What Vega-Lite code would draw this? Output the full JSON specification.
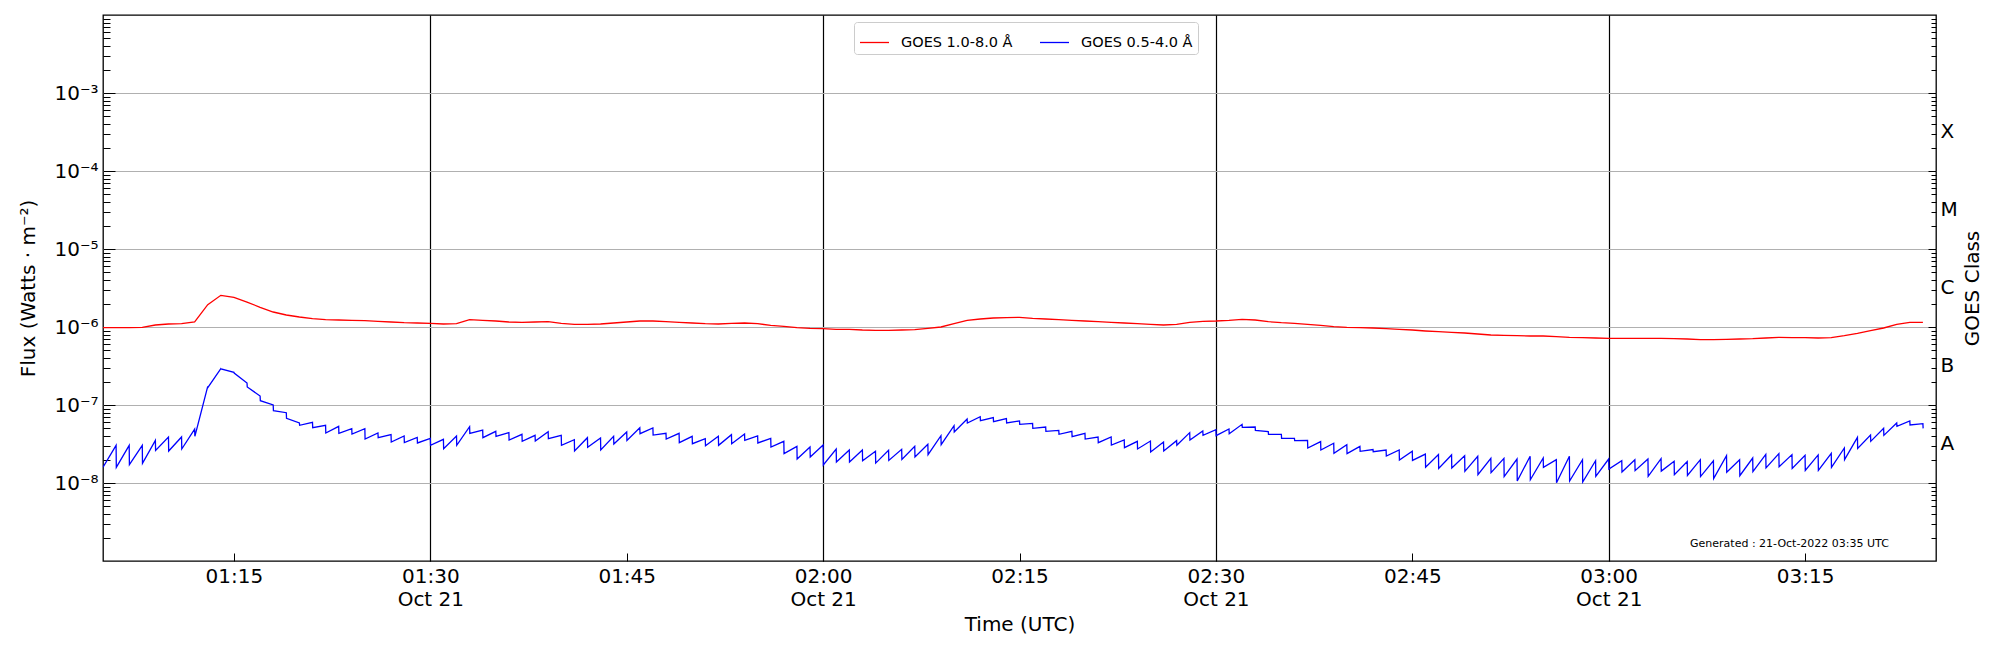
{
"$schema": "https://vega.github.io/schema/vega-lite/v6.json",
"width": 1833,
"height": 546,
"autosize": {"type": "none"},
"padding": {"left": 103, "top": 15, "right": 64, "bottom": 89},
"background": "white",
"config": {"view": {"stroke": "black", "strokeWidth": 1.3}, "font": "DejaVu Sans"},
"layer": [
{
"data": {"values": [
{"band":"1.0-8.0","time":"2022-10-21T01:05:00Z","flux":9.81e-7},
{"band":"1.0-8.0","time":"2022-10-21T01:06:00Z","flux":9.81e-7},
{"band":"1.0-8.0","time":"2022-10-21T01:07:00Z","flux":9.81e-7},
{"band":"1.0-8.0","time":"2022-10-21T01:08:00Z","flux":9.90e-7},
{"band":"1.0-8.0","time":"2022-10-21T01:09:00Z","flux":1.061e-6},
{"band":"1.0-8.0","time":"2022-10-21T01:10:00Z","flux":1.093e-6},
{"band":"1.0-8.0","time":"2022-10-21T01:11:00Z","flux":1.103e-6},
{"band":"1.0-8.0","time":"2022-10-21T01:12:00Z","flux":1.159e-6},
{"band":"1.0-8.0","time":"2022-10-21T01:13:00Z","flux":1.933e-6},
{"band":"1.0-8.0","time":"2022-10-21T01:14:00Z","flux":2.547e-6},
{"band":"1.0-8.0","time":"2022-10-21T01:15:00Z","flux":2.40e-6},
{"band":"1.0-8.0","time":"2022-10-21T01:16:00Z","flux":2.09e-6},
{"band":"1.0-8.0","time":"2022-10-21T01:17:00Z","flux":1.787e-6},
{"band":"1.0-8.0","time":"2022-10-21T01:18:00Z","flux":1.557e-6},
{"band":"1.0-8.0","time":"2022-10-21T01:19:00Z","flux":1.425e-6},
{"band":"1.0-8.0","time":"2022-10-21T01:20:00Z","flux":1.344e-6},
{"band":"1.0-8.0","time":"2022-10-21T01:21:00Z","flux":1.279e-6},
{"band":"1.0-8.0","time":"2022-10-21T01:22:00Z","flux":1.242e-6},
{"band":"1.0-8.0","time":"2022-10-21T01:23:00Z","flux":1.229e-6},
{"band":"1.0-8.0","time":"2022-10-21T01:24:00Z","flux":1.217e-6},
{"band":"1.0-8.0","time":"2022-10-21T01:25:00Z","flux":1.206e-6},
{"band":"1.0-8.0","time":"2022-10-21T01:26:00Z","flux":1.182e-6},
{"band":"1.0-8.0","time":"2022-10-21T01:27:00Z","flux":1.159e-6},
{"band":"1.0-8.0","time":"2022-10-21T01:28:00Z","flux":1.137e-6},
{"band":"1.0-8.0","time":"2022-10-21T01:29:00Z","flux":1.125e-6},
{"band":"1.0-8.0","time":"2022-10-21T01:30:00Z","flux":1.114e-6},
{"band":"1.0-8.0","time":"2022-10-21T01:31:00Z","flux":1.093e-6},
{"band":"1.0-8.0","time":"2022-10-21T01:32:00Z","flux":1.103e-6},
{"band":"1.0-8.0","time":"2022-10-21T01:33:00Z","flux":1.242e-6},
{"band":"1.0-8.0","time":"2022-10-21T01:34:00Z","flux":1.217e-6},
{"band":"1.0-8.0","time":"2022-10-21T01:35:00Z","flux":1.194e-6},
{"band":"1.0-8.0","time":"2022-10-21T01:36:00Z","flux":1.159e-6},
{"band":"1.0-8.0","time":"2022-10-21T01:37:00Z","flux":1.148e-6},
{"band":"1.0-8.0","time":"2022-10-21T01:38:00Z","flux":1.159e-6},
{"band":"1.0-8.0","time":"2022-10-21T01:39:00Z","flux":1.171e-6},
{"band":"1.0-8.0","time":"2022-10-21T01:40:00Z","flux":1.114e-6},
{"band":"1.0-8.0","time":"2022-10-21T01:41:00Z","flux":1.082e-6},
{"band":"1.0-8.0","time":"2022-10-21T01:42:00Z","flux":1.082e-6},
{"band":"1.0-8.0","time":"2022-10-21T01:43:00Z","flux":1.093e-6},
{"band":"1.0-8.0","time":"2022-10-21T01:44:00Z","flux":1.125e-6},
{"band":"1.0-8.0","time":"2022-10-21T01:45:00Z","flux":1.159e-6},
{"band":"1.0-8.0","time":"2022-10-21T01:46:00Z","flux":1.194e-6},
{"band":"1.0-8.0","time":"2022-10-21T01:47:00Z","flux":1.194e-6},
{"band":"1.0-8.0","time":"2022-10-21T01:48:00Z","flux":1.171e-6},
{"band":"1.0-8.0","time":"2022-10-21T01:49:00Z","flux":1.148e-6},
{"band":"1.0-8.0","time":"2022-10-21T01:50:00Z","flux":1.125e-6},
{"band":"1.0-8.0","time":"2022-10-21T01:51:00Z","flux":1.103e-6},
{"band":"1.0-8.0","time":"2022-10-21T01:52:00Z","flux":1.093e-6},
{"band":"1.0-8.0","time":"2022-10-21T01:53:00Z","flux":1.114e-6},
{"band":"1.0-8.0","time":"2022-10-21T01:54:00Z","flux":1.125e-6},
{"band":"1.0-8.0","time":"2022-10-21T01:55:00Z","flux":1.103e-6},
{"band":"1.0-8.0","time":"2022-10-21T01:56:00Z","flux":1.051e-6},
{"band":"1.0-8.0","time":"2022-10-21T01:57:00Z","flux":1.020e-6},
{"band":"1.0-8.0","time":"2022-10-21T01:58:00Z","flux":9.81e-7},
{"band":"1.0-8.0","time":"2022-10-21T01:59:00Z","flux":9.61e-7},
{"band":"1.0-8.0","time":"2022-10-21T02:00:00Z","flux":9.52e-7},
{"band":"1.0-8.0","time":"2022-10-21T02:01:00Z","flux":9.34e-7},
{"band":"1.0-8.0","time":"2022-10-21T02:02:00Z","flux":9.34e-7},
{"band":"1.0-8.0","time":"2022-10-21T02:03:00Z","flux":9.15e-7},
{"band":"1.0-8.0","time":"2022-10-21T02:04:00Z","flux":9.06e-7},
{"band":"1.0-8.0","time":"2022-10-21T02:05:00Z","flux":9.06e-7},
{"band":"1.0-8.0","time":"2022-10-21T02:06:00Z","flux":9.15e-7},
{"band":"1.0-8.0","time":"2022-10-21T02:07:00Z","flux":9.24e-7},
{"band":"1.0-8.0","time":"2022-10-21T02:08:00Z","flux":9.61e-7},
{"band":"1.0-8.0","time":"2022-10-21T02:09:00Z","flux":1.000e-6},
{"band":"1.0-8.0","time":"2022-10-21T02:10:00Z","flux":1.103e-6},
{"band":"1.0-8.0","time":"2022-10-21T02:11:00Z","flux":1.217e-6},
{"band":"1.0-8.0","time":"2022-10-21T02:12:00Z","flux":1.266e-6},
{"band":"1.0-8.0","time":"2022-10-21T02:13:00Z","flux":1.304e-6},
{"band":"1.0-8.0","time":"2022-10-21T02:14:00Z","flux":1.317e-6},
{"band":"1.0-8.0","time":"2022-10-21T02:15:00Z","flux":1.330e-6},
{"band":"1.0-8.0","time":"2022-10-21T02:16:00Z","flux":1.291e-6},
{"band":"1.0-8.0","time":"2022-10-21T02:17:00Z","flux":1.266e-6},
{"band":"1.0-8.0","time":"2022-10-21T02:18:00Z","flux":1.242e-6},
{"band":"1.0-8.0","time":"2022-10-21T02:19:00Z","flux":1.217e-6},
{"band":"1.0-8.0","time":"2022-10-21T02:20:00Z","flux":1.194e-6},
{"band":"1.0-8.0","time":"2022-10-21T02:21:00Z","flux":1.171e-6},
{"band":"1.0-8.0","time":"2022-10-21T02:22:00Z","flux":1.148e-6},
{"band":"1.0-8.0","time":"2022-10-21T02:23:00Z","flux":1.125e-6},
{"band":"1.0-8.0","time":"2022-10-21T02:24:00Z","flux":1.103e-6},
{"band":"1.0-8.0","time":"2022-10-21T02:25:00Z","flux":1.082e-6},
{"band":"1.0-8.0","time":"2022-10-21T02:26:00Z","flux":1.061e-6},
{"band":"1.0-8.0","time":"2022-10-21T02:27:00Z","flux":1.082e-6},
{"band":"1.0-8.0","time":"2022-10-21T02:28:00Z","flux":1.148e-6},
{"band":"1.0-8.0","time":"2022-10-21T02:29:00Z","flux":1.182e-6},
{"band":"1.0-8.0","time":"2022-10-21T02:30:00Z","flux":1.194e-6},
{"band":"1.0-8.0","time":"2022-10-21T02:31:00Z","flux":1.217e-6},
{"band":"1.0-8.0","time":"2022-10-21T02:32:00Z","flux":1.254e-6},
{"band":"1.0-8.0","time":"2022-10-21T02:33:00Z","flux":1.229e-6},
{"band":"1.0-8.0","time":"2022-10-21T02:34:00Z","flux":1.171e-6},
{"band":"1.0-8.0","time":"2022-10-21T02:35:00Z","flux":1.137e-6},
{"band":"1.0-8.0","time":"2022-10-21T02:36:00Z","flux":1.114e-6},
{"band":"1.0-8.0","time":"2022-10-21T02:37:00Z","flux":1.082e-6},
{"band":"1.0-8.0","time":"2022-10-21T02:38:00Z","flux":1.051e-6},
{"band":"1.0-8.0","time":"2022-10-21T02:39:00Z","flux":1.010e-6},
{"band":"1.0-8.0","time":"2022-10-21T02:40:00Z","flux":9.90e-7},
{"band":"1.0-8.0","time":"2022-10-21T02:41:00Z","flux":9.81e-7},
{"band":"1.0-8.0","time":"2022-10-21T02:42:00Z","flux":9.71e-7},
{"band":"1.0-8.0","time":"2022-10-21T02:43:00Z","flux":9.52e-7},
{"band":"1.0-8.0","time":"2022-10-21T02:44:00Z","flux":9.34e-7},
{"band":"1.0-8.0","time":"2022-10-21T02:45:00Z","flux":9.15e-7},
{"band":"1.0-8.0","time":"2022-10-21T02:46:00Z","flux":8.89e-7},
{"band":"1.0-8.0","time":"2022-10-21T02:47:00Z","flux":8.71e-7},
{"band":"1.0-8.0","time":"2022-10-21T02:48:00Z","flux":8.54e-7},
{"band":"1.0-8.0","time":"2022-10-21T02:49:00Z","flux":8.38e-7},
{"band":"1.0-8.0","time":"2022-10-21T02:50:00Z","flux":8.13e-7},
{"band":"1.0-8.0","time":"2022-10-21T02:51:00Z","flux":7.90e-7},
{"band":"1.0-8.0","time":"2022-10-21T02:52:00Z","flux":7.82e-7},
{"band":"1.0-8.0","time":"2022-10-21T02:53:00Z","flux":7.74e-7},
{"band":"1.0-8.0","time":"2022-10-21T02:54:00Z","flux":7.67e-7},
{"band":"1.0-8.0","time":"2022-10-21T02:55:00Z","flux":7.67e-7},
{"band":"1.0-8.0","time":"2022-10-21T02:56:00Z","flux":7.52e-7},
{"band":"1.0-8.0","time":"2022-10-21T02:57:00Z","flux":7.37e-7},
{"band":"1.0-8.0","time":"2022-10-21T02:58:00Z","flux":7.30e-7},
{"band":"1.0-8.0","time":"2022-10-21T02:59:00Z","flux":7.23e-7},
{"band":"1.0-8.0","time":"2022-10-21T03:00:00Z","flux":7.16e-7},
{"band":"1.0-8.0","time":"2022-10-21T03:01:00Z","flux":7.16e-7},
{"band":"1.0-8.0","time":"2022-10-21T03:02:00Z","flux":7.16e-7},
{"band":"1.0-8.0","time":"2022-10-21T03:03:00Z","flux":7.16e-7},
{"band":"1.0-8.0","time":"2022-10-21T03:04:00Z","flux":7.16e-7},
{"band":"1.0-8.0","time":"2022-10-21T03:05:00Z","flux":7.09e-7},
{"band":"1.0-8.0","time":"2022-10-21T03:06:00Z","flux":7.02e-7},
{"band":"1.0-8.0","time":"2022-10-21T03:07:00Z","flux":6.88e-7},
{"band":"1.0-8.0","time":"2022-10-21T03:08:00Z","flux":6.88e-7},
{"band":"1.0-8.0","time":"2022-10-21T03:09:00Z","flux":6.95e-7},
{"band":"1.0-8.0","time":"2022-10-21T03:10:00Z","flux":7.02e-7},
{"band":"1.0-8.0","time":"2022-10-21T03:11:00Z","flux":7.09e-7},
{"band":"1.0-8.0","time":"2022-10-21T03:12:00Z","flux":7.23e-7},
{"band":"1.0-8.0","time":"2022-10-21T03:13:00Z","flux":7.37e-7},
{"band":"1.0-8.0","time":"2022-10-21T03:14:00Z","flux":7.30e-7},
{"band":"1.0-8.0","time":"2022-10-21T03:15:00Z","flux":7.30e-7},
{"band":"1.0-8.0","time":"2022-10-21T03:16:00Z","flux":7.23e-7},
{"band":"1.0-8.0","time":"2022-10-21T03:17:00Z","flux":7.30e-7},
{"band":"1.0-8.0","time":"2022-10-21T03:18:00Z","flux":7.74e-7},
{"band":"1.0-8.0","time":"2022-10-21T03:19:00Z","flux":8.29e-7},
{"band":"1.0-8.0","time":"2022-10-21T03:20:00Z","flux":8.97e-7},
{"band":"1.0-8.0","time":"2022-10-21T03:21:00Z","flux":9.71e-7},
{"band":"1.0-8.0","time":"2022-10-21T03:22:00Z","flux":1.082e-6},
{"band":"1.0-8.0","time":"2022-10-21T03:23:00Z","flux":1.148e-6},
{"band":"1.0-8.0","time":"2022-10-21T03:24:00Z","flux":1.148e-6},
{"band":"0.5-4.0","time":"2022-10-21T01:05:00Z","flux":1.59e-8},
{"band":"0.5-4.0","time":"2022-10-21T01:06:00Z","flux":3.04e-8},{"band":"0.5-4.0","time":"2022-10-21T01:06:01Z","flux":1.59e-8},
{"band":"0.5-4.0","time":"2022-10-21T01:07:00Z","flux":3.04e-8},{"band":"0.5-4.0","time":"2022-10-21T01:07:01Z","flux":1.72e-8},
{"band":"0.5-4.0","time":"2022-10-21T01:08:00Z","flux":3.04e-8},{"band":"0.5-4.0","time":"2022-10-21T01:08:01Z","flux":1.79e-8},
{"band":"0.5-4.0","time":"2022-10-21T01:09:00Z","flux":3.52e-8},{"band":"0.5-4.0","time":"2022-10-21T01:09:01Z","flux":2.62e-8},
{"band":"0.5-4.0","time":"2022-10-21T01:10:00Z","flux":3.89e-8},{"band":"0.5-4.0","time":"2022-10-21T01:10:01Z","flux":2.57e-8},
{"band":"0.5-4.0","time":"2022-10-21T01:11:00Z","flux":3.89e-8},{"band":"0.5-4.0","time":"2022-10-21T01:11:01Z","flux":2.73e-8},
{"band":"0.5-4.0","time":"2022-10-21T01:12:00Z","flux":4.92e-8},{"band":"0.5-4.0","time":"2022-10-21T01:12:01Z","flux":3.97e-8},
{"band":"0.5-4.0","time":"2022-10-21T01:13:00Z","flux":1.735e-7},{"band":"0.5-4.0","time":"2022-10-21T01:13:01Z","flux":1.685e-7},
{"band":"0.5-4.0","time":"2022-10-21T01:14:00Z","flux":2.923e-7},{"band":"0.5-4.0","time":"2022-10-21T01:14:01Z","flux":2.894e-7},
{"band":"0.5-4.0","time":"2022-10-21T01:15:00Z","flux":2.623e-7},{"band":"0.5-4.0","time":"2022-10-21T01:15:01Z","flux":2.572e-7},
{"band":"0.5-4.0","time":"2022-10-21T01:16:00Z","flux":1.915e-7},{"band":"0.5-4.0","time":"2022-10-21T01:16:01Z","flux":1.701e-7},
{"band":"0.5-4.0","time":"2022-10-21T01:17:00Z","flux":1.305e-7},{"band":"0.5-4.0","time":"2022-10-21T01:17:01Z","flux":1.136e-7},
{"band":"0.5-4.0","time":"2022-10-21T01:18:00Z","flux":1.0e-7},{"band":"0.5-4.0","time":"2022-10-21T01:18:01Z","flux":8.46e-8},
{"band":"0.5-4.0","time":"2022-10-21T01:19:00Z","flux":7.97e-8},{"band":"0.5-4.0","time":"2022-10-21T01:19:01Z","flux":6.75e-8},
{"band":"0.5-4.0","time":"2022-10-21T01:20:00Z","flux":5.88e-8},{"band":"0.5-4.0","time":"2022-10-21T01:20:01Z","flux":5.49e-8},
{"band":"0.5-4.0","time":"2022-10-21T01:21:00Z","flux":5.99e-8},{"band":"0.5-4.0","time":"2022-10-21T01:21:01Z","flux":5.12e-8},
{"band":"0.5-4.0","time":"2022-10-21T01:22:00Z","flux":5.49e-8},{"band":"0.5-4.0","time":"2022-10-21T01:22:01Z","flux":4.38e-8},
{"band":"0.5-4.0","time":"2022-10-21T01:23:00Z","flux":5.33e-8},{"band":"0.5-4.0","time":"2022-10-21T01:23:01Z","flux":4.33e-8},
{"band":"0.5-4.0","time":"2022-10-21T01:24:00Z","flux":4.97e-8},{"band":"0.5-4.0","time":"2022-10-21T01:24:01Z","flux":4.25e-8},
{"band":"0.5-4.0","time":"2022-10-21T01:25:00Z","flux":4.97e-8},{"band":"0.5-4.0","time":"2022-10-21T01:25:01Z","flux":3.66e-8},
{"band":"0.5-4.0","time":"2022-10-21T01:26:00Z","flux":4.38e-8},{"band":"0.5-4.0","time":"2022-10-21T01:26:01Z","flux":3.81e-8},
{"band":"0.5-4.0","time":"2022-10-21T01:27:00Z","flux":4.17e-8},{"band":"0.5-4.0","time":"2022-10-21T01:27:01Z","flux":3.35e-8},
{"band":"0.5-4.0","time":"2022-10-21T01:28:00Z","flux":4.01e-8},{"band":"0.5-4.0","time":"2022-10-21T01:28:01Z","flux":3.29e-8},
{"band":"0.5-4.0","time":"2022-10-21T01:29:00Z","flux":3.85e-8},{"band":"0.5-4.0","time":"2022-10-21T01:29:01Z","flux":3.26e-8},
{"band":"0.5-4.0","time":"2022-10-21T01:30:00Z","flux":3.74e-8},{"band":"0.5-4.0","time":"2022-10-21T01:30:01Z","flux":3.04e-8},
{"band":"0.5-4.0","time":"2022-10-21T01:31:00Z","flux":3.63e-8},{"band":"0.5-4.0","time":"2022-10-21T01:31:01Z","flux":2.75e-8},
{"band":"0.5-4.0","time":"2022-10-21T01:32:00Z","flux":4.01e-8},{"band":"0.5-4.0","time":"2022-10-21T01:32:01Z","flux":3.04e-8},
{"band":"0.5-4.0","time":"2022-10-21T01:33:00Z","flux":5.28e-8},{"band":"0.5-4.0","time":"2022-10-21T01:33:01Z","flux":4.33e-8},
{"band":"0.5-4.0","time":"2022-10-21T01:34:00Z","flux":4.78e-8},{"band":"0.5-4.0","time":"2022-10-21T01:34:01Z","flux":3.81e-8},
{"band":"0.5-4.0","time":"2022-10-21T01:35:00Z","flux":4.60e-8},{"band":"0.5-4.0","time":"2022-10-21T01:35:01Z","flux":3.97e-8},
{"band":"0.5-4.0","time":"2022-10-21T01:36:00Z","flux":4.42e-8},{"band":"0.5-4.0","time":"2022-10-21T01:36:01Z","flux":3.56e-8},
{"band":"0.5-4.0","time":"2022-10-21T01:37:00Z","flux":4.21e-8},{"band":"0.5-4.0","time":"2022-10-21T01:37:01Z","flux":3.42e-8},
{"band":"0.5-4.0","time":"2022-10-21T01:38:00Z","flux":4.08e-8},{"band":"0.5-4.0","time":"2022-10-21T01:38:01Z","flux":3.45e-8},
{"band":"0.5-4.0","time":"2022-10-21T01:39:00Z","flux":4.55e-8},{"band":"0.5-4.0","time":"2022-10-21T01:39:01Z","flux":3.70e-8},
{"band":"0.5-4.0","time":"2022-10-21T01:40:00Z","flux":4.08e-8},{"band":"0.5-4.0","time":"2022-10-21T01:40:01Z","flux":3.04e-8},
{"band":"0.5-4.0","time":"2022-10-21T01:41:00Z","flux":3.59e-8},{"band":"0.5-4.0","time":"2022-10-21T01:41:01Z","flux":2.57e-8},
{"band":"0.5-4.0","time":"2022-10-21T01:42:00Z","flux":3.81e-8},{"band":"0.5-4.0","time":"2022-10-21T01:42:01Z","flux":2.87e-8},
{"band":"0.5-4.0","time":"2022-10-21T01:43:00Z","flux":3.78e-8},{"band":"0.5-4.0","time":"2022-10-21T01:43:01Z","flux":2.65e-8},
{"band":"0.5-4.0","time":"2022-10-21T01:44:00Z","flux":3.97e-8},{"band":"0.5-4.0","time":"2022-10-21T01:44:01Z","flux":3.16e-8},
{"band":"0.5-4.0","time":"2022-10-21T01:45:00Z","flux":4.51e-8},{"band":"0.5-4.0","time":"2022-10-21T01:45:01Z","flux":3.52e-8},
{"band":"0.5-4.0","time":"2022-10-21T01:46:00Z","flux":5.12e-8},{"band":"0.5-4.0","time":"2022-10-21T01:46:01Z","flux":4.29e-8},
{"band":"0.5-4.0","time":"2022-10-21T01:47:00Z","flux":5.07e-8},{"band":"0.5-4.0","time":"2022-10-21T01:47:01Z","flux":4.12e-8},
{"band":"0.5-4.0","time":"2022-10-21T01:48:00Z","flux":4.33e-8},{"band":"0.5-4.0","time":"2022-10-21T01:48:01Z","flux":3.66e-8},
{"band":"0.5-4.0","time":"2022-10-21T01:49:00Z","flux":4.33e-8},{"band":"0.5-4.0","time":"2022-10-21T01:49:01Z","flux":3.29e-8},
{"band":"0.5-4.0","time":"2022-10-21T01:50:00Z","flux":3.97e-8},{"band":"0.5-4.0","time":"2022-10-21T01:50:01Z","flux":3.19e-8},
{"band":"0.5-4.0","time":"2022-10-21T01:51:00Z","flux":3.70e-8},{"band":"0.5-4.0","time":"2022-10-21T01:51:01Z","flux":3.01e-8},
{"band":"0.5-4.0","time":"2022-10-21T01:52:00Z","flux":3.97e-8},{"band":"0.5-4.0","time":"2022-10-21T01:52:01Z","flux":3.04e-8},
{"band":"0.5-4.0","time":"2022-10-21T01:53:00Z","flux":4.17e-8},{"band":"0.5-4.0","time":"2022-10-21T01:53:01Z","flux":3.19e-8},
{"band":"0.5-4.0","time":"2022-10-21T01:54:00Z","flux":4.25e-8},{"band":"0.5-4.0","time":"2022-10-21T01:54:01Z","flux":3.52e-8},
{"band":"0.5-4.0","time":"2022-10-21T01:55:00Z","flux":4.01e-8},{"band":"0.5-4.0","time":"2022-10-21T01:55:01Z","flux":3.26e-8},
{"band":"0.5-4.0","time":"2022-10-21T01:56:00Z","flux":3.74e-8},{"band":"0.5-4.0","time":"2022-10-21T01:56:01Z","flux":2.89e-8},
{"band":"0.5-4.0","time":"2022-10-21T01:57:00Z","flux":3.42e-8},{"band":"0.5-4.0","time":"2022-10-21T01:57:01Z","flux":2.38e-8},
{"band":"0.5-4.0","time":"2022-10-21T01:58:00Z","flux":2.95e-8},{"band":"0.5-4.0","time":"2022-10-21T01:58:01Z","flux":2.03e-8},
{"band":"0.5-4.0","time":"2022-10-21T01:59:00Z","flux":2.89e-8},{"band":"0.5-4.0","time":"2022-10-21T01:59:01Z","flux":2.15e-8},
{"band":"0.5-4.0","time":"2022-10-21T02:00:00Z","flux":3.07e-8},{"band":"0.5-4.0","time":"2022-10-21T02:00:01Z","flux":1.70e-8},
{"band":"0.5-4.0","time":"2022-10-21T02:01:00Z","flux":2.73e-8},{"band":"0.5-4.0","time":"2022-10-21T02:01:01Z","flux":1.86e-8},
{"band":"0.5-4.0","time":"2022-10-21T02:02:00Z","flux":2.65e-8},{"band":"0.5-4.0","time":"2022-10-21T02:02:01Z","flux":1.86e-8},
{"band":"0.5-4.0","time":"2022-10-21T02:03:00Z","flux":2.65e-8},{"band":"0.5-4.0","time":"2022-10-21T02:03:01Z","flux":1.93e-8},
{"band":"0.5-4.0","time":"2022-10-21T02:04:00Z","flux":2.55e-8},{"band":"0.5-4.0","time":"2022-10-21T02:04:01Z","flux":1.80e-8},
{"band":"0.5-4.0","time":"2022-10-21T02:05:00Z","flux":2.62e-8},{"band":"0.5-4.0","time":"2022-10-21T02:05:01Z","flux":1.95e-8},
{"band":"0.5-4.0","time":"2022-10-21T02:06:00Z","flux":2.70e-8},{"band":"0.5-4.0","time":"2022-10-21T02:06:01Z","flux":2.01e-8},
{"band":"0.5-4.0","time":"2022-10-21T02:07:00Z","flux":2.95e-8},{"band":"0.5-4.0","time":"2022-10-21T02:07:01Z","flux":2.15e-8},
{"band":"0.5-4.0","time":"2022-10-21T02:08:00Z","flux":3.13e-8},{"band":"0.5-4.0","time":"2022-10-21T02:08:01Z","flux":2.31e-8},
{"band":"0.5-4.0","time":"2022-10-21T02:09:00Z","flux":4.04e-8},{"band":"0.5-4.0","time":"2022-10-21T02:09:01Z","flux":3.10e-8},
{"band":"0.5-4.0","time":"2022-10-21T02:10:00Z","flux":5.43e-8},{"band":"0.5-4.0","time":"2022-10-21T02:10:01Z","flux":4.51e-8},
{"band":"0.5-4.0","time":"2022-10-21T02:11:00Z","flux":6.61e-8},{"band":"0.5-4.0","time":"2022-10-21T02:11:01Z","flux":5.88e-8},
{"band":"0.5-4.0","time":"2022-10-21T02:12:00Z","flux":7.09e-8},{"band":"0.5-4.0","time":"2022-10-21T02:12:01Z","flux":6.30e-8},
{"band":"0.5-4.0","time":"2022-10-21T02:13:00Z","flux":6.88e-8},{"band":"0.5-4.0","time":"2022-10-21T02:13:01Z","flux":6.11e-8},
{"band":"0.5-4.0","time":"2022-10-21T02:14:00Z","flux":6.68e-8},{"band":"0.5-4.0","time":"2022-10-21T02:14:01Z","flux":5.88e-8},
{"band":"0.5-4.0","time":"2022-10-21T02:15:00Z","flux":6.24e-8},{"band":"0.5-4.0","time":"2022-10-21T02:15:01Z","flux":5.65e-8},
{"band":"0.5-4.0","time":"2022-10-21T02:16:00Z","flux":5.82e-8},{"band":"0.5-4.0","time":"2022-10-21T02:16:01Z","flux":5.02e-8},
{"band":"0.5-4.0","time":"2022-10-21T02:17:00Z","flux":5.22e-8},{"band":"0.5-4.0","time":"2022-10-21T02:17:01Z","flux":4.60e-8},
{"band":"0.5-4.0","time":"2022-10-21T02:18:00Z","flux":4.73e-8},{"band":"0.5-4.0","time":"2022-10-21T02:18:01Z","flux":4.21e-8},
{"band":"0.5-4.0","time":"2022-10-21T02:19:00Z","flux":4.60e-8},{"band":"0.5-4.0","time":"2022-10-21T02:19:01Z","flux":3.93e-8},
{"band":"0.5-4.0","time":"2022-10-21T02:20:00Z","flux":4.33e-8},{"band":"0.5-4.0","time":"2022-10-21T02:20:01Z","flux":3.66e-8},
{"band":"0.5-4.0","time":"2022-10-21T02:21:00Z","flux":3.89e-8},{"band":"0.5-4.0","time":"2022-10-21T02:21:01Z","flux":3.29e-8},
{"band":"0.5-4.0","time":"2022-10-21T02:22:00Z","flux":3.89e-8},{"band":"0.5-4.0","time":"2022-10-21T02:22:01Z","flux":3.07e-8},
{"band":"0.5-4.0","time":"2022-10-21T02:23:00Z","flux":3.56e-8},{"band":"0.5-4.0","time":"2022-10-21T02:23:01Z","flux":2.84e-8},
{"band":"0.5-4.0","time":"2022-10-21T02:24:00Z","flux":3.42e-8},{"band":"0.5-4.0","time":"2022-10-21T02:24:01Z","flux":2.73e-8},
{"band":"0.5-4.0","time":"2022-10-21T02:25:00Z","flux":3.45e-8},{"band":"0.5-4.0","time":"2022-10-21T02:25:01Z","flux":2.50e-8},
{"band":"0.5-4.0","time":"2022-10-21T02:26:00Z","flux":3.35e-8},{"band":"0.5-4.0","time":"2022-10-21T02:26:01Z","flux":2.57e-8},
{"band":"0.5-4.0","time":"2022-10-21T02:27:00Z","flux":3.49e-8},{"band":"0.5-4.0","time":"2022-10-21T02:27:01Z","flux":3.04e-8},
{"band":"0.5-4.0","time":"2022-10-21T02:28:00Z","flux":4.42e-8},{"band":"0.5-4.0","time":"2022-10-21T02:28:01Z","flux":3.56e-8},
{"band":"0.5-4.0","time":"2022-10-21T02:29:00Z","flux":4.64e-8},{"band":"0.5-4.0","time":"2022-10-21T02:29:01Z","flux":4.08e-8},
{"band":"0.5-4.0","time":"2022-10-21T02:30:00Z","flux":4.83e-8},{"band":"0.5-4.0","time":"2022-10-21T02:30:01Z","flux":4.04e-8},
{"band":"0.5-4.0","time":"2022-10-21T02:31:00Z","flux":4.92e-8},{"band":"0.5-4.0","time":"2022-10-21T02:31:01Z","flux":4.29e-8},
{"band":"0.5-4.0","time":"2022-10-21T02:32:00Z","flux":5.65e-8},{"band":"0.5-4.0","time":"2022-10-21T02:32:01Z","flux":5.17e-8},
{"band":"0.5-4.0","time":"2022-10-21T02:33:00Z","flux":5.22e-8},{"band":"0.5-4.0","time":"2022-10-21T02:33:01Z","flux":4.73e-8},
{"band":"0.5-4.0","time":"2022-10-21T02:34:00Z","flux":4.55e-8},{"band":"0.5-4.0","time":"2022-10-21T02:34:01Z","flux":4.21e-8},
{"band":"0.5-4.0","time":"2022-10-21T02:35:00Z","flux":4.21e-8},{"band":"0.5-4.0","time":"2022-10-21T02:35:01Z","flux":3.74e-8},
{"band":"0.5-4.0","time":"2022-10-21T02:36:00Z","flux":3.74e-8},{"band":"0.5-4.0","time":"2022-10-21T02:36:01Z","flux":3.49e-8},
{"band":"0.5-4.0","time":"2022-10-21T02:37:00Z","flux":3.52e-8},{"band":"0.5-4.0","time":"2022-10-21T02:37:01Z","flux":2.81e-8},
{"band":"0.5-4.0","time":"2022-10-21T02:38:00Z","flux":3.39e-8},{"band":"0.5-4.0","time":"2022-10-21T02:38:01Z","flux":2.65e-8},
{"band":"0.5-4.0","time":"2022-10-21T02:39:00Z","flux":3.23e-8},{"band":"0.5-4.0","time":"2022-10-21T02:39:01Z","flux":2.40e-8},
{"band":"0.5-4.0","time":"2022-10-21T02:40:00Z","flux":3.10e-8},{"band":"0.5-4.0","time":"2022-10-21T02:40:01Z","flux":2.38e-8},
{"band":"0.5-4.0","time":"2022-10-21T02:41:00Z","flux":2.95e-8},{"band":"0.5-4.0","time":"2022-10-21T02:41:01Z","flux":2.55e-8},
{"band":"0.5-4.0","time":"2022-10-21T02:42:00Z","flux":2.68e-8},{"band":"0.5-4.0","time":"2022-10-21T02:42:01Z","flux":2.52e-8},
{"band":"0.5-4.0","time":"2022-10-21T02:43:00Z","flux":2.65e-8},{"band":"0.5-4.0","time":"2022-10-21T02:43:01Z","flux":2.22e-8},
{"band":"0.5-4.0","time":"2022-10-21T02:44:00Z","flux":2.65e-8},{"band":"0.5-4.0","time":"2022-10-21T02:44:01Z","flux":1.97e-8},
{"band":"0.5-4.0","time":"2022-10-21T02:45:00Z","flux":2.55e-8},{"band":"0.5-4.0","time":"2022-10-21T02:45:01Z","flux":1.95e-8},
{"band":"0.5-4.0","time":"2022-10-21T02:46:00Z","flux":2.35e-8},{"band":"0.5-4.0","time":"2022-10-21T02:46:01Z","flux":1.59e-8},
{"band":"0.5-4.0","time":"2022-10-21T02:47:00Z","flux":2.31e-8},{"band":"0.5-4.0","time":"2022-10-21T02:47:01Z","flux":1.54e-8},
{"band":"0.5-4.0","time":"2022-10-21T02:48:00Z","flux":2.29e-8},{"band":"0.5-4.0","time":"2022-10-21T02:48:01Z","flux":1.56e-8},
{"band":"0.5-4.0","time":"2022-10-21T02:49:00Z","flux":2.24e-8},{"band":"0.5-4.0","time":"2022-10-21T02:49:01Z","flux":1.41e-8},
{"band":"0.5-4.0","time":"2022-10-21T02:50:00Z","flux":2.20e-8},{"band":"0.5-4.0","time":"2022-10-21T02:50:01Z","flux":1.28e-8},
{"band":"0.5-4.0","time":"2022-10-21T02:51:00Z","flux":2.07e-8},{"band":"0.5-4.0","time":"2022-10-21T02:51:01Z","flux":1.36e-8},
{"band":"0.5-4.0","time":"2022-10-21T02:52:00Z","flux":2.07e-8},{"band":"0.5-4.0","time":"2022-10-21T02:52:01Z","flux":1.21e-8},
{"band":"0.5-4.0","time":"2022-10-21T02:53:00Z","flux":2.03e-8},{"band":"0.5-4.0","time":"2022-10-21T02:53:01Z","flux":1.06e-8},
{"band":"0.5-4.0","time":"2022-10-21T02:54:00Z","flux":2.20e-8},{"band":"0.5-4.0","time":"2022-10-21T02:54:01Z","flux":1.10e-8},
{"band":"0.5-4.0","time":"2022-10-21T02:55:00Z","flux":2.09e-8},{"band":"0.5-4.0","time":"2022-10-21T02:55:01Z","flux":1.59e-8},
{"band":"0.5-4.0","time":"2022-10-21T02:56:00Z","flux":1.99e-8},{"band":"0.5-4.0","time":"2022-10-21T02:56:01Z","flux":1.01e-8},
{"band":"0.5-4.0","time":"2022-10-21T02:57:00Z","flux":2.20e-8},{"band":"0.5-4.0","time":"2022-10-21T02:57:01Z","flux":1.06e-8},
{"band":"0.5-4.0","time":"2022-10-21T02:58:00Z","flux":1.99e-8},{"band":"0.5-4.0","time":"2022-10-21T02:58:01Z","flux":1.03e-8},
{"band":"0.5-4.0","time":"2022-10-21T02:59:00Z","flux":1.93e-8},{"band":"0.5-4.0","time":"2022-10-21T02:59:01Z","flux":1.22e-8},
{"band":"0.5-4.0","time":"2022-10-21T03:00:00Z","flux":2.03e-8},{"band":"0.5-4.0","time":"2022-10-21T03:00:01Z","flux":1.51e-8},
{"band":"0.5-4.0","time":"2022-10-21T03:01:00Z","flux":1.93e-8},{"band":"0.5-4.0","time":"2022-10-21T03:01:01Z","flux":1.38e-8},
{"band":"0.5-4.0","time":"2022-10-21T03:02:00Z","flux":1.99e-8},{"band":"0.5-4.0","time":"2022-10-21T03:02:01Z","flux":1.44e-8},
{"band":"0.5-4.0","time":"2022-10-21T03:03:00Z","flux":2.03e-8},{"band":"0.5-4.0","time":"2022-10-21T03:03:01Z","flux":1.22e-8},
{"band":"0.5-4.0","time":"2022-10-21T03:04:00Z","flux":2.05e-8},{"band":"0.5-4.0","time":"2022-10-21T03:04:01Z","flux":1.42e-8},
{"band":"0.5-4.0","time":"2022-10-21T03:05:00Z","flux":1.90e-8},{"band":"0.5-4.0","time":"2022-10-21T03:05:01Z","flux":1.28e-8},
{"band":"0.5-4.0","time":"2022-10-21T03:06:00Z","flux":1.88e-8},{"band":"0.5-4.0","time":"2022-10-21T03:06:01Z","flux":1.25e-8},
{"band":"0.5-4.0","time":"2022-10-21T03:07:00Z","flux":1.99e-8},{"band":"0.5-4.0","time":"2022-10-21T03:07:01Z","flux":1.21e-8},
{"band":"0.5-4.0","time":"2022-10-21T03:08:00Z","flux":1.93e-8},{"band":"0.5-4.0","time":"2022-10-21T03:08:01Z","flux":1.14e-8},
{"band":"0.5-4.0","time":"2022-10-21T03:09:00Z","flux":2.24e-8},{"band":"0.5-4.0","time":"2022-10-21T03:09:01Z","flux":1.37e-8},
{"band":"0.5-4.0","time":"2022-10-21T03:10:00Z","flux":1.99e-8},{"band":"0.5-4.0","time":"2022-10-21T03:10:01Z","flux":1.24e-8},
{"band":"0.5-4.0","time":"2022-10-21T03:11:00Z","flux":2.09e-8},{"band":"0.5-4.0","time":"2022-10-21T03:11:01Z","flux":1.40e-8},
{"band":"0.5-4.0","time":"2022-10-21T03:12:00Z","flux":2.33e-8},{"band":"0.5-4.0","time":"2022-10-21T03:12:01Z","flux":1.56e-8},
{"band":"0.5-4.0","time":"2022-10-21T03:13:00Z","flux":2.38e-8},{"band":"0.5-4.0","time":"2022-10-21T03:13:01Z","flux":1.62e-8},
{"band":"0.5-4.0","time":"2022-10-21T03:14:00Z","flux":2.31e-8},{"band":"0.5-4.0","time":"2022-10-21T03:14:01Z","flux":1.54e-8},
{"band":"0.5-4.0","time":"2022-10-21T03:15:00Z","flux":2.26e-8},{"band":"0.5-4.0","time":"2022-10-21T03:15:01Z","flux":1.45e-8},
{"band":"0.5-4.0","time":"2022-10-21T03:16:00Z","flux":2.29e-8},{"band":"0.5-4.0","time":"2022-10-21T03:16:01Z","flux":1.45e-8},
{"band":"0.5-4.0","time":"2022-10-21T03:17:00Z","flux":2.40e-8},{"band":"0.5-4.0","time":"2022-10-21T03:17:01Z","flux":1.59e-8},
{"band":"0.5-4.0","time":"2022-10-21T03:18:00Z","flux":2.81e-8},{"band":"0.5-4.0","time":"2022-10-21T03:18:01Z","flux":1.99e-8},
{"band":"0.5-4.0","time":"2022-10-21T03:19:00Z","flux":3.85e-8},{"band":"0.5-4.0","time":"2022-10-21T03:19:01Z","flux":2.78e-8},
{"band":"0.5-4.0","time":"2022-10-21T03:20:00Z","flux":4.12e-8},{"band":"0.5-4.0","time":"2022-10-21T03:20:01Z","flux":3.42e-8},
{"band":"0.5-4.0","time":"2022-10-21T03:21:00Z","flux":5.02e-8},{"band":"0.5-4.0","time":"2022-10-21T03:21:01Z","flux":4.08e-8},
{"band":"0.5-4.0","time":"2022-10-21T03:22:00Z","flux":5.88e-8},{"band":"0.5-4.0","time":"2022-10-21T03:22:01Z","flux":5.33e-8},
{"band":"0.5-4.0","time":"2022-10-21T03:23:00Z","flux":6.24e-8},{"band":"0.5-4.0","time":"2022-10-21T03:23:01Z","flux":5.54e-8},
{"band":"0.5-4.0","time":"2022-10-21T03:24:00Z","flux":5.77e-8},{"band":"0.5-4.0","time":"2022-10-21T03:24:01Z","flux":5.02e-8}
]},
"mark": {"type": "line", "strokeWidth": 1.3, "clip": true},
"encoding": {
"x": {"field": "time", "type": "temporal", "title": "Time (UTC)",
 "scale": {"type": "utc", "domain": [{"year": 2022, "month": 10, "date": 21, "hours": 1, "minutes": 5, "utc": true}, {"year": 2022, "month": 10, "date": 21, "hours": 3, "minutes": 25, "utc": true}]},
 "axis": {
  "values": [
   {"year": 2022, "month": 10, "date": 21, "hours": 1, "minutes": 15, "utc": true},
   {"year": 2022, "month": 10, "date": 21, "hours": 1, "minutes": 30, "utc": true},
   {"year": 2022, "month": 10, "date": 21, "hours": 1, "minutes": 45, "utc": true},
   {"year": 2022, "month": 10, "date": 21, "hours": 2, "minutes": 0, "utc": true},
   {"year": 2022, "month": 10, "date": 21, "hours": 2, "minutes": 15, "utc": true},
   {"year": 2022, "month": 10, "date": 21, "hours": 2, "minutes": 30, "utc": true},
   {"year": 2022, "month": 10, "date": 21, "hours": 2, "minutes": 45, "utc": true},
   {"year": 2022, "month": 10, "date": 21, "hours": 3, "minutes": 0, "utc": true},
   {"year": 2022, "month": 10, "date": 21, "hours": 3, "minutes": 15, "utc": true}
  ],
  "labelExpr": "utcminutes(datum.value) % 30 == 0 ? [utcFormat(datum.value, '%H:%M'), utcFormat(datum.value, '%b %d')] : utcFormat(datum.value, '%H:%M')",
  "labelFontSize": 20, "labelColor": "black", "labelPadding": 13, "labelLineHeight": 23, "labelFlush": false, "labelOverlap": false,
  "tickSize": -8, "tickColor": "black", "tickWidth": 1,
  "domain": false,
  "grid": true, "gridColor": "black", "gridWidth": 1.2,
  "gridOpacity": {"condition": {"test": "utcminutes(datum.value) % 30 == 0", "value": 1}, "value": 0},
  "title": "Time (UTC)", "titleFontSize": 20, "titleFontWeight": "normal", "titleColor": "black",
  "titleY": 63, "titleBaseline": "middle"
 }
},
"y": {"field": "flux", "type": "quantitative",
 "scale": {"type": "log", "domain": [1e-9, 1e-2], "nice": false},
 "axis": {
  "orient": "left",
  "values": [2e-9,3e-9,4e-9,5e-9,6e-9,7e-9,8e-9,9e-9,1e-8,2e-8,3e-8,4e-8,5e-8,6e-8,7e-8,8e-8,9e-8,1e-7,2e-7,3e-7,4e-7,5e-7,6e-7,7e-7,8e-7,9e-7,1e-6,2e-6,3e-6,4e-6,5e-6,6e-6,7e-6,8e-6,9e-6,1e-5,2e-5,3e-5,4e-5,5e-5,6e-5,7e-5,8e-5,9e-5,1e-4,2e-4,3e-4,4e-4,5e-4,6e-4,7e-4,8e-4,9e-4,1e-3,2e-3,3e-3,4e-3,5e-3,6e-3,7e-3,8e-3,9e-3],
  "labelExpr": "abs(log(datum.value)/LN10 - round(log(datum.value)/LN10)) < 0.001 ? '10⁻' + ['⁰','¹','²','³','⁴','⁵','⁶','⁷','⁸','⁹'][-round(log(datum.value)/LN10)] : ''",
  "labelFontSize": 20, "labelColor": "black", "labelPadding": 17, "labelFlush": false, "labelOverlap": false,
  "tickSize": {"condition": {"test": "abs(log(datum.value)/LN10 - round(log(datum.value)/LN10)) < 0.001", "value": -12}, "value": -7},
  "tickColor": "black", "tickWidth": 1,
  "domain": false,
  "grid": true, "gridColor": "#b0b0b0", "gridWidth": 1,
  "gridOpacity": {"condition": {"test": "abs(log(datum.value)/LN10 - round(log(datum.value)/LN10)) < 0.001", "value": 1}, "value": 0},
  "title": "Flux (Watts · m⁻²)", "titleFontSize": 20, "titleFontWeight": "normal", "titleColor": "black",
  "titleX": -75, "titleY": 273, "titleAngle": -90, "titleBaseline": "middle", "titleAlign": "center"
 }
},
"color": {"field": "band", "type": "nominal",
 "scale": {"domain": ["1.0-8.0", "0.5-4.0"], "range": ["#ff0000", "#0000ff"]},
 "legend": {
  "orient": "none", "legendX": 751, "legendY": 7, "direction": "horizontal", "title": null,
  "symbolType": "stroke", "symbolSize": 841, "symbolStrokeWidth": 1.3,
  "labelFontSize": 14.5, "labelColor": "black", "labelExpr": "'GOES ' + datum.label + ' Å'",
  "labelOffset": 11, "columnPadding": 24,
  "fillColor": "rgba(255,255,255,0.8)", "strokeColor": "#cccccc", "cornerRadius": 3, "padding": 5
 }
}
}
},
{
"data": {"values": [{"time": "2022-10-21T03:21:24Z", "flux": 1.65e-9, "label": "Generated : 21-Oct-2022 03:35 UTC"}]},
"mark": {"type": "text", "align": "right", "baseline": "middle", "fontSize": 11, "color": "black"},
"encoding": {
"x": {"field": "time", "type": "temporal", "title": "Time (UTC)"},
"y": {"field": "flux", "type": "quantitative",
 "axis": {
  "orient": "right",
  "values": [2e-9,3e-9,4e-9,5e-9,6e-9,7e-9,8e-9,9e-9,1e-8,2e-8,3e-8,3.16228e-8,4e-8,5e-8,6e-8,7e-8,8e-8,9e-8,1e-7,2e-7,3e-7,3.16228e-7,4e-7,5e-7,6e-7,7e-7,8e-7,9e-7,1e-6,2e-6,3e-6,3.16228e-6,4e-6,5e-6,6e-6,7e-6,8e-6,9e-6,1e-5,2e-5,3e-5,3.16228e-5,4e-5,5e-5,6e-5,7e-5,8e-5,9e-5,1e-4,2e-4,3e-4,3.16228e-4,4e-4,5e-4,6e-4,7e-4,8e-4,9e-4,1e-3,2e-3,3e-3,4e-3,5e-3,6e-3,7e-3,8e-3,9e-3],
  "labelExpr": "abs(log(datum.value)/LN10 - floor(log(datum.value)/LN10) - 0.5) < 0.001 ? ['A','B','C','M','X'][floor(log(datum.value)/LN10) + 8] : ''",
  "labelFontSize": 20, "labelColor": "black", "labelPadding": 4, "labelFlush": false, "labelOverlap": false,
  "tickSize": {"condition": [
    {"test": "abs(log(datum.value)/LN10 - floor(log(datum.value)/LN10) - 0.5) < 0.001", "value": 0},
    {"test": "abs(log(datum.value)/LN10 - round(log(datum.value)/LN10)) < 0.001", "value": -8}
   ], "value": -5},
  "tickColor": "black", "tickWidth": 1,
  "domain": false, "grid": false,
  "title": "GOES Class", "titleFontSize": 20, "titleFontWeight": "normal", "titleColor": "black",
  "titleX": 36, "titleY": 273, "titleAngle": -90, "titleBaseline": "middle", "titleAlign": "center"
 }
},
"text": {"field": "label"}
}
}
],
"resolve": {"axis": {"y": "independent"}}
}
